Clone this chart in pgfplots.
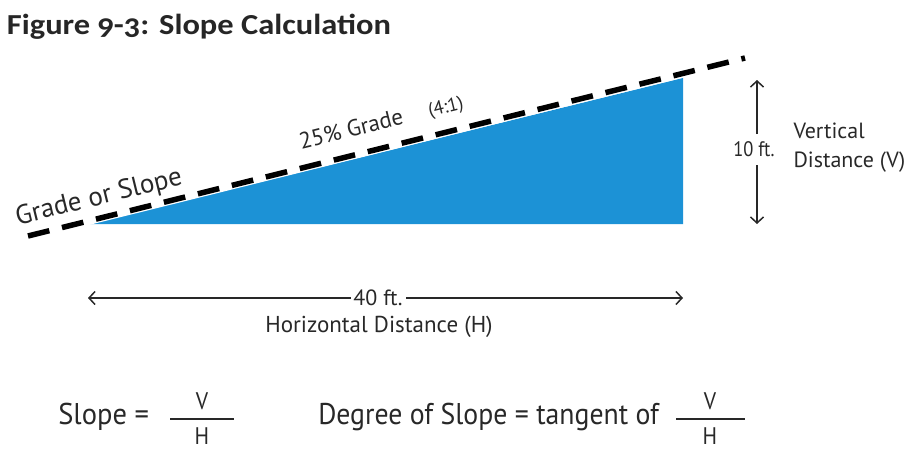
\documentclass[border=0pt]{standalone}
\usepackage{pgfplots}
\pgfplotsset{compat=1.18}
\usepackage{fontspec}
\setmainfont{PT Sans}
\newfontfamily\titlefont[Numbers=OldStyle]{Carlito}
\usetikzlibrary{arrows.meta}
\definecolor{slopeblue}{RGB}{28,146,214}
\definecolor{txt}{RGB}{40,40,40}
\begin{document}
\begin{tikzpicture}
\begin{axis}[width=924pt,height=450pt,scale only axis,xmin=0,xmax=924,ymin=0,ymax=450,
  y dir=reverse,hide axis,clip=false]
\path (axis cs:0,0) rectangle (axis cs:924,450);
% blue triangle
\addplot[fill=slopeblue,draw=none] coordinates {(90,224) (683,224) (683,78)} -- cycle;
% dashed slope line
\addplot[white,line width=8pt] coordinates {(28,236) (745,58)};
\addplot[black,line width=5.5pt,dash pattern=on 22pt off 13pt] coordinates {(28,236) (745,58)};
% vertical arrow
\addplot[txt,line width=1.5pt,-{Straight Barb[length=6pt,width=13pt]}] coordinates {(757,134) (757,80)};
\addplot[txt,line width=1.5pt,-{Straight Barb[length=6pt,width=13pt]}] coordinates {(757,165) (757,224)};
% horizontal arrow
\addplot[txt,line width=1.5pt,-{Straight Barb[length=6pt,width=13pt]}] coordinates {(351,298) (88,298)};
\addplot[txt,line width=1.5pt,-{Straight Barb[length=6pt,width=13pt]}] coordinates {(406,298) (683,298)};
% fraction bars
\addplot[txt,line width=1.8pt] coordinates {(170,419) (234,419)};
\addplot[txt,line width=1.8pt] coordinates {(676,419) (745,419)};
% texts
\node[anchor=west,xscale=1.12,text=black!85,font=\titlefont\bfseries\fontsize{29}{33}\selectfont] at (axis cs:3,27) {Figure 9-3: Slope Calculation};
\node[rotate=13.8,text=txt,font=\fontsize{27}{31}\selectfont] at (axis cs:99,198) {Grade or Slope};
\node[rotate=13.8,text=txt,font=\fontsize{23}{27}\selectfont] at (axis cs:351,129) {25\% Grade};
\node[rotate=13.8,text=txt,font=\fontsize{19}{22}\selectfont] at (axis cs:446,108) {(4:1)};
\node[xscale=0.88,text=txt,font=\fontsize{21}{25}\selectfont] at (axis cs:754,149) {10 ft.};
\node[anchor=west,text=txt,font=\fontsize{22}{26}\selectfont] at (axis cs:790,131) {Vertical};
\node[anchor=west,text=txt,font=\fontsize{22}{26}\selectfont] at (axis cs:790,162) {Distance (V)};
\node[text=txt,font=\fontsize{22}{26}\selectfont] at (axis cs:378,298) {40 ft.};
\node[text=txt,font=\fontsize{23}{27}\selectfont] at (axis cs:379,327) {Horizontal Distance (H)};
\node[anchor=west,xscale=0.95,text=txt,font=\fontsize{30}{34}\selectfont] at (axis cs:55,417) {Slope =};
\node[xscale=0.9,text=txt,font=\fontsize{24}{28}\selectfont] at (axis cs:202,401) {V};
\node[xscale=0.9,text=txt,font=\fontsize{24}{28}\selectfont] at (axis cs:202,436) {H};
\node[anchor=west,xscale=0.925,text=txt,font=\fontsize{30}{34}\selectfont] at (axis cs:315,417) {Degree of Slope = tangent of};
\node[xscale=0.9,text=txt,font=\fontsize{24}{28}\selectfont] at (axis cs:710,401) {V};
\node[xscale=0.9,text=txt,font=\fontsize{24}{28}\selectfont] at (axis cs:710,436) {H};
\end{axis}
\end{tikzpicture}
\end{document}
